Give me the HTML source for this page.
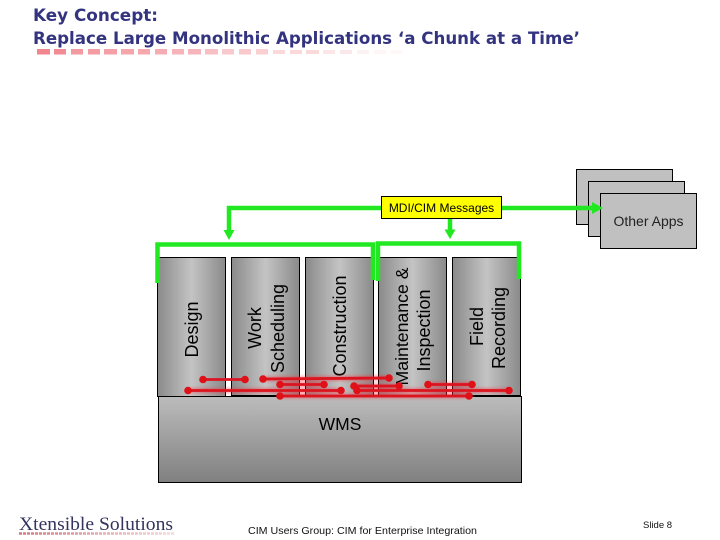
<!DOCTYPE html>
<html><head><meta charset="utf-8"><style>html,body{margin:0;padding:0;background:#fff}svg{display:block}</style></head><body>
<svg width="720" height="540" viewBox="0 0 720 540" xmlns="http://www.w3.org/2000/svg" font-family="'Liberation Sans',sans-serif">
<defs>
<linearGradient id="c" x1="0" x2="1" y1="0" y2="0"><stop offset="0" stop-color="#8a8a8a"/><stop offset=".5" stop-color="#c4c4c4"/><stop offset="1" stop-color="#8a8a8a"/></linearGradient>
<linearGradient id="w" x1="0" x2="0" y1="0" y2="1"><stop offset="0" stop-color="#bcbcbc"/><stop offset="1" stop-color="#808080"/></linearGradient>
<linearGradient id="l" gradientUnits="userSpaceOnUse" x1="19" x2="175" y1="0" y2="0"><stop offset="0" stop-color="#d87880"/><stop offset="1" stop-color="#f4dcdc"/></linearGradient>
<filter id="g" x="-10%" y="-300%" width="120%" height="700%"><feGaussianBlur stdDeviation="1.5"/></filter>
</defs>
<g font-family="'DejaVu Sans',sans-serif" font-weight="bold" font-size="17" fill="#333380">
<text x="33" y="21" textLength="125" lengthAdjust="spacingAndGlyphs">Key Concept:</text>
<text x="33" y="44" textLength="547" lengthAdjust="spacingAndGlyphs">Replace Large Monolithic Applications ‘a Chunk at a Time’</text>
</g>
<g fill="#f08088">
<rect x="37" y="49" width="13" height="5.5" opacity=".95"/><rect x="54" y="49" width="12" height="5.5" opacity=".9"/><rect x="71" y="49" width="12" height="5.5" opacity=".8"/><rect x="88" y="49" width="12" height="5.5" opacity=".78"/><rect x="104" y="49" width="13" height="5.5" opacity=".75"/><rect x="121" y="49" width="13" height="5.5" opacity=".7"/><rect x="138" y="49" width="12" height="5.5" opacity=".68"/><rect x="155" y="49" width="12" height="5.5" opacity=".65"/><rect x="172" y="49" width="12" height="5.5" opacity=".6"/><rect x="188" y="49" width="13" height="5.5" opacity=".58"/><rect x="205" y="49" width="13" height="5.5" opacity=".5"/><rect x="222" y="49" width="12" height="5.5" opacity=".42"/><rect x="239" y="49" width="12" height="5.5" opacity=".42"/><rect x="256" y="49" width="12" height="5.5" opacity=".38"/><rect x="273" y="50" width="12" height="4" opacity=".3"/><rect x="290" y="50" width="12" height="4" opacity=".3"/><rect x="306" y="50" width="13" height="4" opacity=".3"/><rect x="323" y="50" width="12" height="4" opacity=".2"/><rect x="340" y="50" width="12" height="4" opacity=".18"/><rect x="357" y="50" width="12" height="4" opacity=".1"/><rect x="374" y="50" width="12" height="4" opacity=".08"/><rect x="391" y="50" width="12" height="4" opacity=".06"/>
</g>
<g fill="#c0c0c0" stroke="#000" stroke-width="1">
<rect x="576.5" y="169.5" width="96" height="55"/><rect x="588.5" y="181.5" width="96" height="55"/><rect x="600.5" y="193.5" width="96" height="55"/>
</g>
<text x="648.5" y="226" font-size="14" text-anchor="middle" fill="#222">Other Apps</text>
<g fill="url(#c)" stroke="#000" stroke-width="1">
<rect x="157.5" y="257.5" width="68" height="139"/><rect x="231.5" y="257.5" width="68" height="138"/><rect x="305.5" y="257.5" width="68" height="138"/><rect x="378.5" y="257.5" width="68" height="138"/><rect x="452.5" y="257.5" width="68" height="138"/>
</g>
<rect x="158.5" y="396.5" width="363" height="86" fill="url(#w)" stroke="#000" stroke-width="1"/>
<text x="340" y="430" font-size="17.5" text-anchor="middle" fill="#000">WMS</text>
<g font-size="18" text-anchor="middle" fill="#000">
<text transform="translate(198 329.500) rotate(-90)">Design</text>
<text transform="translate(261 328) rotate(-90)">Work</text>
<text transform="translate(284 328.500) rotate(-90)">Scheduling</text>
<text transform="translate(346 326) rotate(-90)">Construction</text>
<text transform="translate(408 326.500) rotate(-90)" font-size="17.700">Maintenance &amp;</text>
<text transform="translate(430 330.500) rotate(-90)">Inspection</text>
<text transform="translate(483 326.500) rotate(-90)">Field</text>
<text transform="translate(505 328) rotate(-90)">Recording</text>
</g>
<path d="M263 379L389 378M280 384.500H324M188 390.500H341M354 386H399M357 390.500H509M428 384.500H472M280 396H469" fill="none" stroke="#ff2030" stroke-width="4" opacity=".55" filter="url(#g)"/>
<g stroke="#dc1420" stroke-width="2.800" fill="#e01018">
<path d="M203 379.500H245M263 379L389 378M280 384.500H324M188 390.500H341M354 386H399M357 390.500H509M428 384.500H472M280 396H469" fill="none"/>
<g stroke="none">
<circle cx="203" cy="379.500" r="3.800"/><circle cx="245" cy="379.500" r="3.800"/><circle cx="263" cy="379" r="3.800"/><circle cx="389" cy="378" r="3.800"/><circle cx="280" cy="384.500" r="3.800"/><circle cx="324" cy="384.500" r="3.800"/><circle cx="188" cy="390.500" r="3.800"/><circle cx="341" cy="390.500" r="3.800"/><circle cx="354" cy="386" r="3.800"/><circle cx="399" cy="386" r="3.800"/><circle cx="357" cy="390.500" r="3.800"/><circle cx="509" cy="390.500" r="3.800"/><circle cx="428" cy="384.500" r="3.800"/><circle cx="472" cy="384.500" r="3.800"/><circle cx="280" cy="396" r="3.800"/><circle cx="469" cy="396" r="3.800"/>
</g>
</g>
<g fill="none" stroke="#22e822" stroke-width="4.500">
<path d="M595 208H229V231M450 218V231"/>
<path d="M157.500 283V244.500H373V280M378 281V243.500H519V279"/>
</g>
<g fill="#22e822">
<path d="M223.500 230H234.500L229 240ZM444.500 229.500H455.500L450 239ZM592 202L603 208L592 214Z"/>
</g>
<rect x="381.500" y="196.500" width="120" height="22" fill="#ffff00" stroke="#000" stroke-width="1"/>
<text x="441.500" y="212" font-size="12" text-anchor="middle" fill="#000">MDI/CIM Messages</text>
<text x="19" y="530" font-family="'Liberation Serif',serif" font-size="19" fill="#33335f" textLength="154" lengthAdjust="spacingAndGlyphs">Xtensible Solutions</text>
<path d="M19 533.500H175" stroke="url(#l)" stroke-width="2.500" stroke-dasharray="3 1"/>
<text x="248" y="534" font-size="10.500" fill="#111" textLength="229" lengthAdjust="spacingAndGlyphs">CIM Users Group: CIM for Enterprise Integration</text>
<text x="643" y="528" font-size="9.500" fill="#111">Slide 8</text>
</svg>
</body></html>
